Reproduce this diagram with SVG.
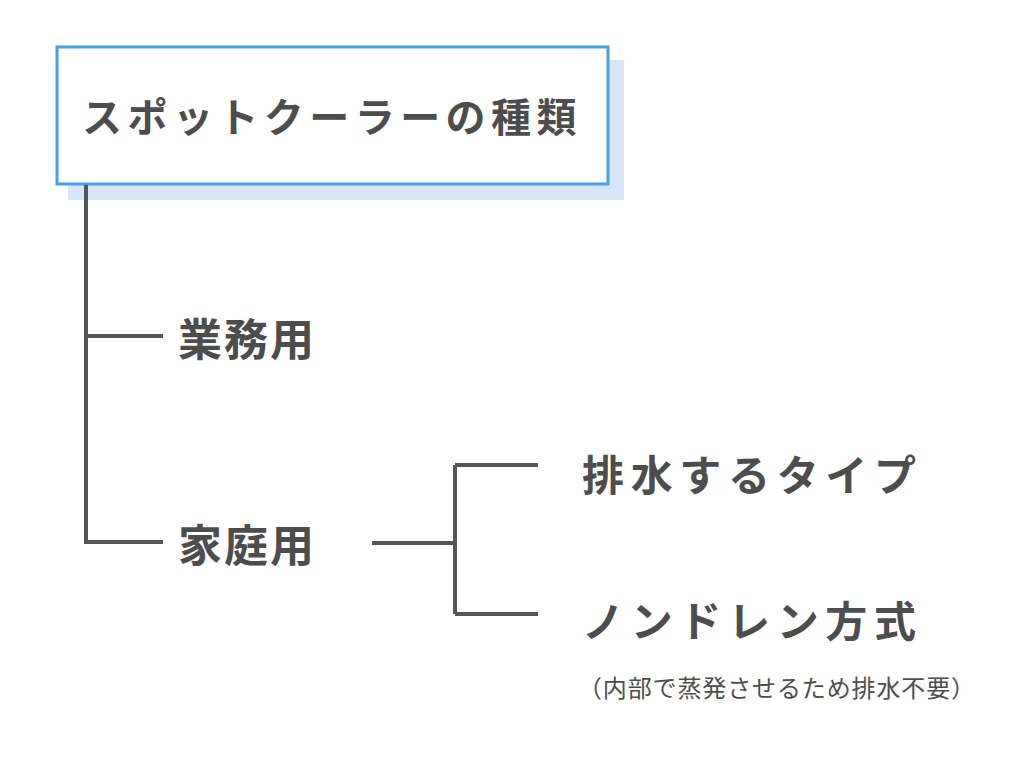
<svg xmlns="http://www.w3.org/2000/svg" width="1024" height="768" viewBox="0 0 1024 768">
<style>
.t{font-family:"Noto Sans CJK JP","Noto Sans CJK SC",sans-serif;font-weight:bold;fill:#4d4d4d}
.c{stroke:#555;stroke-width:4;fill:none}
</style>
<rect width="1024" height="768" fill="#fff"/>
<g id="title">
<rect x="68" y="60" width="556" height="140" fill="#d6e6f7"/>
<rect x="57" y="47" width="551" height="137" fill="#fff" stroke="#4a9fe0" stroke-width="3"/>
<text class="t" x="82" y="132" font-size="40" letter-spacing="5.5" textLength="500">スポットクーラーの種類</text>
</g>
<g id="connectors" class="c">
<path d="M86 185V542H163M86 336H163"/>
<path d="M372 543H455M455 465V614M455 465H538M455 614H538"/>
</g>
<g id="gyomu"><text class="t" x="178" y="356" font-size="44" letter-spacing="2">業務用</text></g>
<g id="katei"><text class="t" x="178" y="562" font-size="44" letter-spacing="2">家庭用</text></g>
<g id="haisui"><text class="t" x="582" y="491" font-size="42" textLength="334">排水するタイプ</text></g>
<g id="nondrain"><text class="t" x="582" y="637" font-size="42" textLength="334">ノンドレン方式</text>
<text x="578" y="697" font-size="24" font-family="Noto Sans CJK JP,sans-serif" fill="#4d4d4d" textLength="397">（内部で蒸発させるため排水不要）</text></g>
</svg>
